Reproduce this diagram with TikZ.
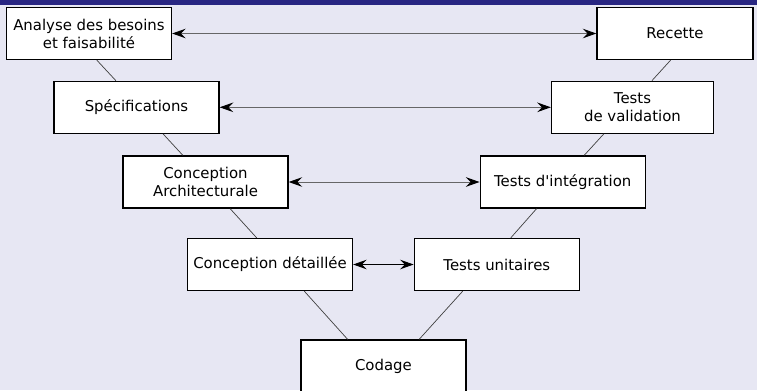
\documentclass[tikz,border=0pt]{standalone}
\usepackage{fontspec}
\setmainfont{DejaVu Sans}
\usetikzlibrary{arrows.meta,calc}
\definecolor{slidebg}{RGB}{231,231,243}
\definecolor{slidebar}{RGB}{40,38,130}
\tikzstyle{stage}=[draw,fill=white,line width=0.9pt,minimum width=4.125cm,minimum height=1.3cm,align=center,inner sep=1pt,font=\fontsize{10.6}{12.8}\selectfont]
\tikzstyle{vline}=[draw=black!75,line width=0.5pt]
\tikzstyle{link}=[draw=black!60,line width=0.7pt,<->,>={Stealth[length=3.4mm,width=2.4mm,inset=1.2mm,color=black]}]

\begin{document}
\begin{tikzpicture}[x=0.025cm,y=-0.025cm]
\fill[slidebg] (0,0) rectangle (757,390);
\fill[slidebar] (0,0) rectangle (757,5);
\useasboundingbox (0,0) rectangle (757,390);
\node[stage] at (89,33.5) (Ana) {Analyse des besoins\\et faisabilité};
\node[stage, minimum width=3.9cm] at (675,33.5) (Rec) {Recette};
\node[stage] at (136.5,107.3) (Spec) {Spécifications};
\node[stage, minimum width=4.05cm] at (632.5,107.3) (Valid) {Tests\\de validation};
\node[stage] at (205.5,182) (Arch) {Conception\\Architecturale};
\node[stage] at (562.7,182) (Integ) {Tests d\textquotesingle intégration};
\node[stage] at (270,264.5) (Det) {Conception détaillée};
\node[stage] at (496.8,264.5) (Unit) {Tests unitaires};
\node[stage] at (383.4,366) (Cod) {Codage};
\draw[vline] ($(Ana.south west)!0.547!(Ana.south east)$) -- ($(Spec.north west)!0.376!(Spec.north east)$);
\draw[vline] ($(Spec.south west)!0.66!(Spec.south east)$) -- ($(Arch.north west)!0.364!(Arch.north east)$);
\draw[vline] ($(Arch.south west)!0.648!(Arch.south east)$) -- ($(Det.north west)!0.42!(Det.north east)$);
\draw[vline] ($(Det.south west)!0.706!(Det.south east)$) -- ($(Cod.north west)!0.285!(Cod.north east)$);
\draw[vline] ($(Rec.south west)!0.472!(Rec.south east)$) -- ($(Valid.north west)!0.619!(Valid.north east)$);
\draw[vline] ($(Valid.south west)!0.324!(Valid.south east)$) -- ($(Integ.north west)!0.629!(Integ.north east)$);
\draw[vline] ($(Integ.south west)!0.343!(Integ.south east)$) -- ($(Unit.north west)!0.584!(Unit.north east)$);
\draw[vline] ($(Unit.south west)!0.295!(Unit.south east)$) -- ($(Cod.north west)!0.715!(Cod.north east)$);
\draw[link] (Ana) -- (Rec);
\draw[link] (Spec) -- (Valid);
\draw[link] (Arch) -- (Integ);
\draw[link,draw=black] (Det) -- (Unit);
\end{tikzpicture}
\end{document}
